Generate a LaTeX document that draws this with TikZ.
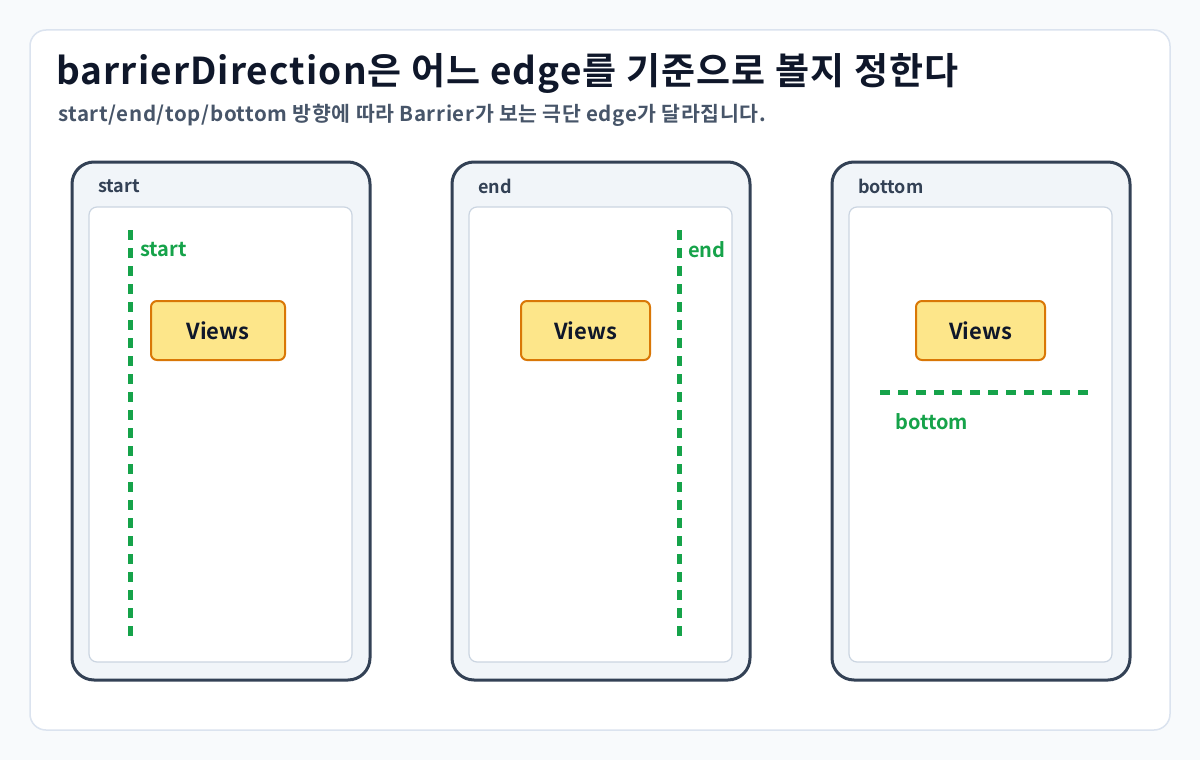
\documentclass[tikz,border=0pt]{standalone}
\usepackage{fontspec}
\setmainfont{Noto Sans CJK KR}[BoldFont={Noto Sans CJK KR Bold}]
\newfontfamily\widefont{Noto Sans CJK KR Bold}[LetterSpace=3]
\definecolor{bg}{HTML}{F8FAFC}
\definecolor{cardb}{HTML}{DBE3EF}
\definecolor{ink}{HTML}{0F172A}
\definecolor{sub}{HTML}{475569}
\definecolor{pan}{HTML}{F1F5F9}
\definecolor{panb}{HTML}{334155}
\definecolor{inb}{HTML}{CBD5E1}
\definecolor{grn}{HTML}{16A34A}
\definecolor{vf}{HTML}{FDE68A}
\definecolor{vb}{HTML}{D97706}
\begin{document}
\begin{tikzpicture}[x=1pt,y=-1pt,
 panel/.style={draw=panb,line width=3pt,fill=pan,rounded corners=22pt},
 inner/.style={draw=inb,line width=1.2pt,fill=white,rounded corners=8pt},
 plabel/.style={anchor=west,text=panb,font=\fontsize{18}{20}\selectfont\bfseries,inner sep=0},
 glabel/.style={anchor=west,text=grn,font=\fontsize{20}{22}\selectfont\bfseries,inner sep=0},
 views/.style={draw=vb,line width=2pt,fill=vf,rounded corners=6pt,text=ink,font=\fontsize{22}{24}\selectfont\bfseries,minimum height=59pt},
 barrier/.style={draw=grn,line width=5pt,dash pattern=on 10pt off 8pt}]
\fill[bg] (0,0) rectangle (1200,760);
\draw[cardb,line width=1.5pt,fill=white,rounded corners=16pt] (30,30) rectangle (1170,730);
\node[anchor=west,text=ink,font=\fontsize{37}{40}\widefont,inner sep=0] (title) at (56,73) {barrierDirection은 어느 edge를 기준으로 볼지 정한다};
\node[anchor=west,text=sub,font=\fontsize{20.5}{22}\widefont,inner sep=0] (subt) at (58,115) {start/end/top/bottom 방향에 따라 Barrier가 보는 극단 edge가 달라집니다.};
% panel 1
\draw[panel] (72,162) rectangle (370,680);
\draw[inner] (89,207) rectangle (352,662);
\node[plabel] (p1) at (98,186) {start};
\coordinate (a1) at (130,230); \coordinate (b1) at (130,637);
\draw[barrier] (a1) -- (b1);
\node[glabel] (g1) at (140,250) {start};
\node[views,minimum width=134pt] (v1) at (218,330.5) {Views};
% panel 2
\draw[panel] (452,162) rectangle (750,680);
\draw[inner] (469,207) rectangle (732,662);
\node[plabel] (p2) at (478,186) {end};
\coordinate (a2) at (679,230); \coordinate (b2) at (679,637);
\draw[barrier] (a2) -- (b2);
\node[glabel] (g2) at (688,250) {end};
\node[views,minimum width=129pt] (v2) at (585.5,330.5) {Views};
% panel 3
\draw[panel] (832,162) rectangle (1130,680);
\draw[inner] (849,207) rectangle (1112,662);
\node[plabel] (p3) at (858,186) {bottom};
\coordinate (a3) at (880,392); \coordinate (b3) at (1092,392);
\draw[barrier] (a3) -- (b3);
\node[glabel] (g3) at (895,422) {bottom};
\node[views,minimum width=129pt] (v3) at (980.5,330.5) {Views};
\end{tikzpicture}
\end{document}
